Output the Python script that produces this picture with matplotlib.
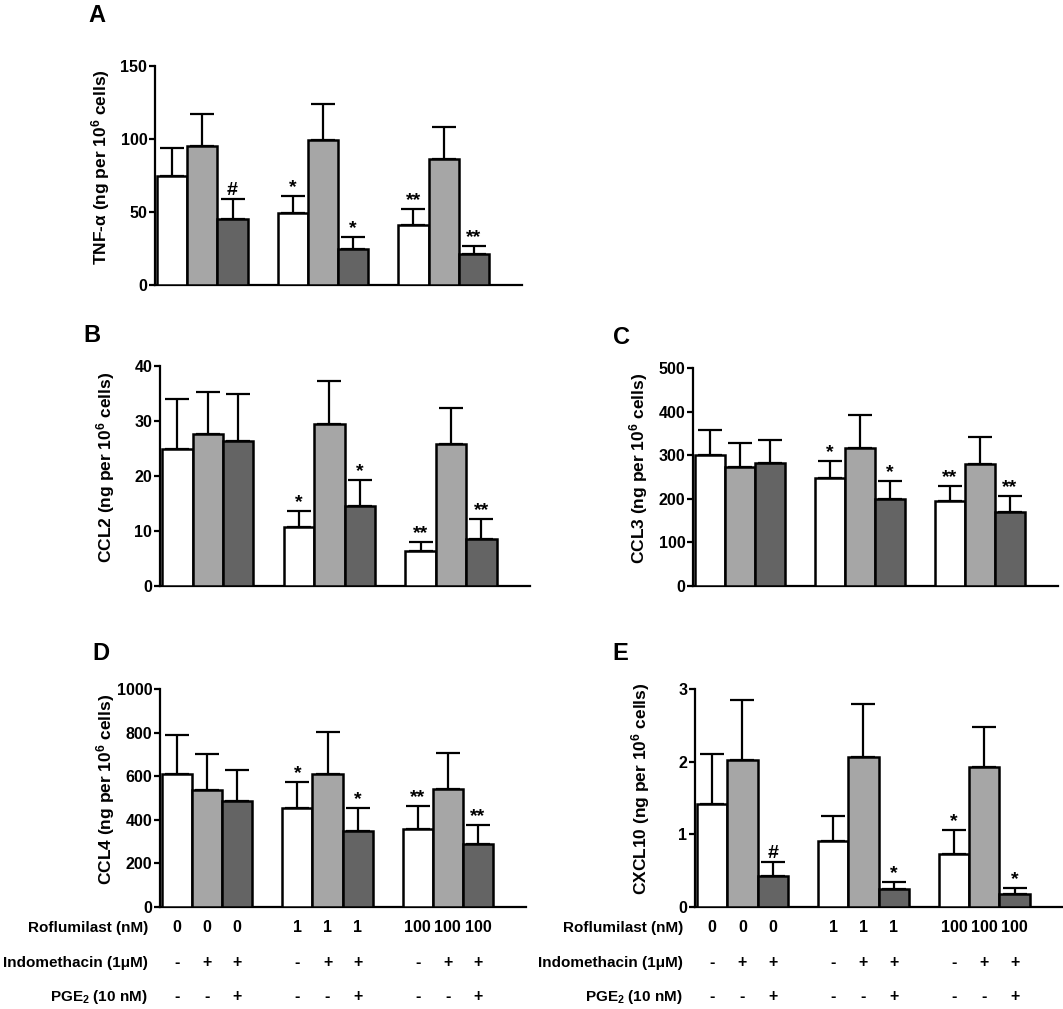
import numpy as np
import matplotlib
matplotlib.use("Agg")
import matplotlib.pyplot as plt
import matplotlib.transforms as mtransforms

plt.rcParams['font.family'] = ['Liberation Sans', 'DejaVu Sans']
plt.rcParams['font.weight'] = 'bold'
plt.rcParams['mathtext.fontset'] = 'custom'
plt.rcParams['mathtext.rm'] = 'Liberation Sans:bold'
plt.rcParams['mathtext.bf'] = 'Liberation Sans:bold'
plt.rcParams['mathtext.default'] = 'rm'

# данные (среднее и верхняя ошибка)
tnf_mean = [75, 95, 45, 49, 99, 25, 41, 86, 21]
tnf_err = [19, 22, 14, 12, 25, 8, 11, 22, 6]
tnf_sig = ['', '', '#', '*', '', '*', '**', '', '**']

ccl2_mean = [25.0, 27.7, 26.3, 10.8, 29.4, 14.5, 6.3, 25.9, 8.6]
ccl2_err = [9.0, 7.5, 8.6, 2.8, 7.8, 4.8, 1.7, 6.5, 3.5]
ccl2_sig = ['', '', '', '*', '', '*', '**', '', '**']

ccl3_mean = [300, 273, 282, 248, 316, 200, 196, 280, 169]
ccl3_err = [57, 55, 54, 39, 76, 40, 34, 61, 37]
ccl3_sig = ['', '', '', '*', '', '*', '**', '', '**']

ccl4_mean = [610, 535, 487, 452, 612, 350, 357, 543, 289]
ccl4_err = [180, 165, 141, 121, 193, 102, 105, 165, 87]
ccl4_sig = ['', '', '', '*', '', '*', '**', '', '**']

cxcl10_mean = [1.42, 2.02, 0.42, 0.91, 2.07, 0.25, 0.73, 1.92, 0.18]
cxcl10_err = [0.68, 0.83, 0.20, 0.34, 0.72, 0.09, 0.33, 0.56, 0.08]
cxcl10_sig = ['', '', '#', '', '', '*', '*', '', '*']

roflumilast = ['0', '0', '0', '1', '1', '1', '100', '100', '100']
indomethacin = ['-', '+', '+', '-', '+', '+', '-', '+', '+']
pge2 = ['-', '-', '+', '-', '-', '+', '-', '-', '+']
row_names = ['Roflumilast (nM)', 'Indomethacin (1\u03bcM)', 'PGE$_2$ (10 nM)']

bar_colors = ['white', '#a6a6a6', '#646464']
x = np.array([4 * g + i for g in range(3) for i in range(3)], dtype=float)
colors = [bar_colors[i] for g in range(3) for i in range(3)]

W, H = 1063, 1009
fig = plt.figure(figsize=(W / 100, H / 100), dpi=100)


def add_ax(l, r, t, b):
    return fig.add_axes([l / W, 1 - b / H, (r - l) / W, (b - t) / H])


def panel(ax, mean, err, sig, ymax, step, label, width_px):
    ax.bar(x, mean, width=1.0, color=colors, edgecolor='black', linewidth=1.8, zorder=3)
    lower = np.zeros(len(err))
    ax.errorbar(x, mean, yerr=[lower, err], fmt='none', ecolor='black',
                elinewidth=1.6, capsize=8.5, capthick=1.6, zorder=2)
    for xi, m, e, s in zip(x, mean, err, sig):
        if s:
            ax.annotate(s, (xi, m + e), xytext=(0, 0), textcoords='offset points',
                        ha='center', va='bottom', fontsize=14, fontweight='bold')
    ax.set_xlim(-0.57, 11.6)
    ax.set_ylim(0, ymax)
    ax.set_yticks(np.arange(0, ymax + step / 2, step))
    ax.set_xticks([])
    for sp in ['top', 'right']:
        ax.spines[sp].set_visible(False)
    for sp in ['left', 'bottom']:
        ax.spines[sp].set_linewidth(1.6)
    ax.tick_params(axis='y', length=4.5, width=1.6, labelsize=11.5, pad=1)
    for t in ax.get_yticklabels():
        t.set_fontweight('bold')
    ax.set_ylabel(label, fontsize=12.5, fontweight='bold')
    ax.yaxis.set_label_coords(-43 / width_px, 0.54)


def table(ax, width_px, height_px, bottom_px):
    rows = [roflumilast, indomethacin, pge2]
    ys = [928, 963, 997]
    trans = mtransforms.blended_transform_factory(ax.transData, ax.transAxes)
    for name, vals, yp in zip(row_names, rows, ys):
        yf = -(yp - bottom_px) / height_px
        ax.text(-12 / width_px, yf, name, transform=ax.transAxes, ha='right',
                va='center', fontsize=11, fontweight='bold')
        for xi, v in zip(x, vals):
            ax.text(xi, yf, v, transform=trans, ha='center', va='center',
                    fontsize=11.5, fontweight='bold')


axA = add_ax(155, 522, 66, 285)
panel(axA, tnf_mean, tnf_err, tnf_sig, 150, 50,
      'TNF-\u03b1 (ng per 10$^6$ cells)', 367)

axB = add_ax(160, 530, 366, 586)
panel(axB, ccl2_mean, ccl2_err, ccl2_sig, 40, 10,
      'CCL2 (ng per 10$^6$ cells)', 370)

axC = add_ax(693, 1058, 368, 586)
panel(axC, ccl3_mean, ccl3_err, ccl3_sig, 500, 100,
      'CCL3 (ng per 10$^6$ cells)', 365)

axD = add_ax(160, 526, 689, 907)
panel(axD, ccl4_mean, ccl4_err, ccl4_sig, 1000, 200,
      'CCL4 (ng per 10$^6$ cells)', 366)
table(axD, 366, 218, 907)

axE = add_ax(695, 1063, 689, 907)
panel(axE, cxcl10_mean, cxcl10_err, cxcl10_sig, 3, 1,
      'CXCL10 (ng per 10$^6$ cells)', 368)
table(axE, 368, 218, 907)

letters = [('A', 97, 15), ('B', 92, 336), ('C', 622, 337), ('D', 101, 654), ('E', 620, 654)]
for s, px, py in letters:
    fig.text(px / W, 1 - py / H, s, ha='center', va='center', fontsize=17, fontweight='bold')

fig.savefig('out.png', dpi=100)
